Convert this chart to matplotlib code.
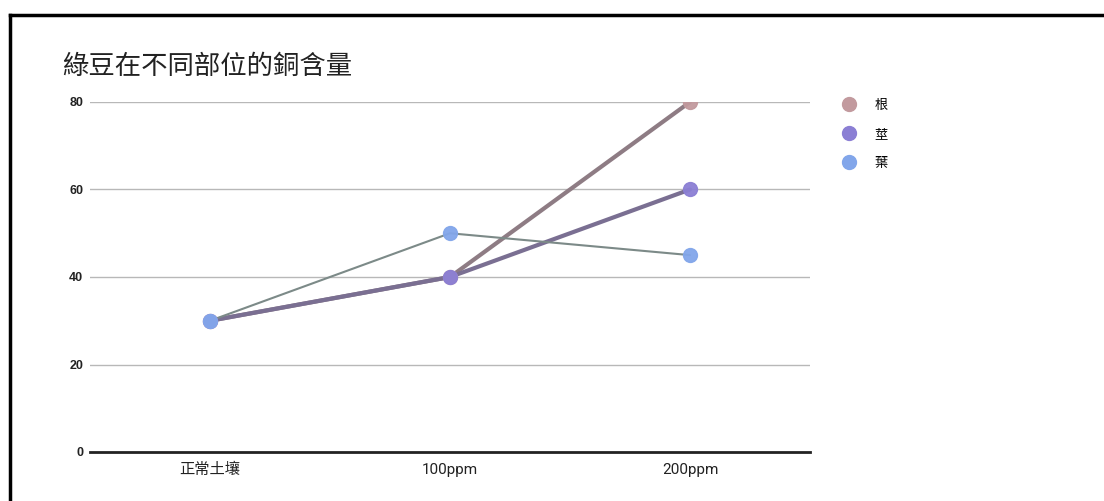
import matplotlib
matplotlib.use("Agg")
import matplotlib.pyplot as plt
from matplotlib.lines import Line2D

plt.rcParams['font.family'] = ['Roboto', 'Noto Sans CJK TC', 'DejaVu Sans']

# copper content by plant part
categories = ['正常土壤', '100ppm', '200ppm']
root = [30, 40, 80]
stem = [30, 40, 60]
leaf = [30, 50, 45]
series_names = ['根', '莖', '葉']
title = '綠豆在不同部位的銅含量'
yticks = [0, 20, 40, 60, 80]

line_colors = ['#8e7c84', '#7a6f92', '#7c8a88']
marker_colors = ['#c29a9e', '#8b7fd4', '#82a6ea']
widths = [3.0, 3.0, 1.5]

fig = plt.figure(figsize=(11.04, 5.01), dpi=100)
ax = fig.add_axes([90 / 1104, 1 - 452 / 501, 720 / 1104, 350 / 501])

x = list(range(len(categories)))
for vals, lc, lw in zip([root, stem, leaf], line_colors, widths):
    ax.plot(x, vals, color=lc, lw=lw, zorder=3, solid_capstyle='round')
for vals, mc in zip([root, stem, leaf], marker_colors):
    ax.plot(x, vals, ls='none', marker='o', ms=10, mfc=mc, mec=mc, alpha=0.95, zorder=4)

ax.set_xlim(-0.5, 2.5)
ax.set_ylim(0, 80)
ax.set_yticks(yticks)
ax.set_yticklabels([str(v) for v in yticks])
for lab in ax.get_yticklabels():
    lab.set_fontfamily(['Liberation Sans'])
    lab.set_fontsize(9)
    lab.set_fontweight('bold')
    lab.set_color('#222222')
ax.set_xticks(x)
ax.set_xticklabels(categories, fontsize=11, color='#222222')
ax.tick_params(axis='both', length=0)
ax.tick_params(axis='y', pad=5)
ax.tick_params(axis='x', pad=8)
for y in yticks[1:]:
    ax.axhline(y, color='#b8b8b8', lw=1, zorder=1)
ax.axhline(0, color='#222222', lw=2, zorder=2, clip_on=False)
for s in ax.spines.values():
    s.set_visible(False)

fig.text(62 / 1104, 1 - 66 / 501, title, fontsize=19, color='#222222', va='center',
         family=['Noto Sans CJK TC'])

# legend on the right
handles = [Line2D([], [], ls='none', marker='o', ms=10, mfc=c, mec=c) for c in marker_colors]
fig.legend(handles, series_names, loc='upper left', bbox_to_anchor=(824 / 1104, 1 - 87 / 501),
           frameon=False, handletextpad=0.9, labelspacing=1.2,
           prop={'family': ['Noto Sans CJK TC'], 'size': 9.5})

# frame lines along the top and left edge
fig.add_artist(Line2D([10 / 1104, 1], [1 - 15 / 501, 1 - 15 / 501], color='black', lw=2.5))
fig.add_artist(Line2D([10 / 1104, 10 / 1104], [0, 1 - 15 / 501], color='black', lw=2.5))

fig.savefig('out.png', dpi=100)
